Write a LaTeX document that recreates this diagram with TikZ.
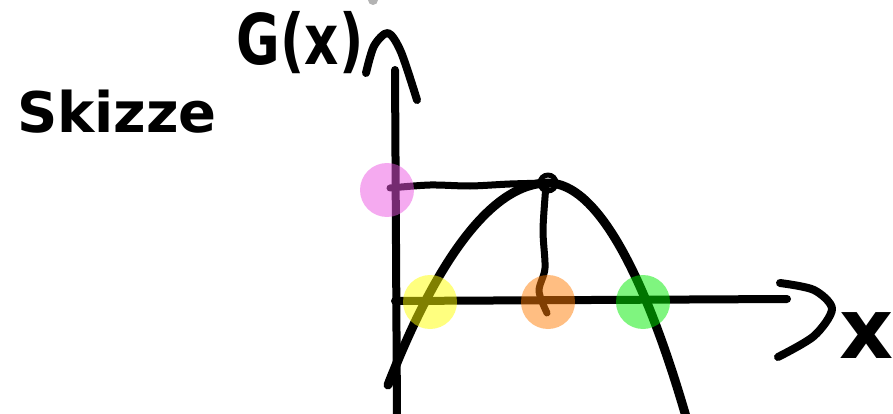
\documentclass[tikz,border=0pt]{standalone}
\usepackage{fontspec}
\setmainfont{DejaVu Sans}
\usepackage{tikz}
\usetikzlibrary{positioning}
\definecolor{skpink}{RGB}{235,85,225}
\definecolor{skyellow}{RGB}{255,255,0}
\definecolor{skorange}{RGB}{255,125,5}
\definecolor{skgreen}{RGB}{0,235,0}
\tikzset{
skline/.style={line width=9pt,line cap=round,line join=round},
skaxis/.style={skline,line width=8pt},
skdot/.style={circle,draw=none,minimum size=54pt,inner sep=0pt,fill opacity=0.5},
sktext/.style={font=\fontsize{56}{56}\selectfont\bfseries,inner sep=0pt}
}
\begin{document}
\begin{tikzpicture}[x=1pt,y=-1pt]
\useasboundingbox (0,0) rectangle (893,414);
% labels
\node[sktext] (title) at (117,112) {Skizze};
\node[sktext,xscale=0.95,yscale=1.25] (ylabel) at (300,43) {G(x)};
\node[sktext,font=\fontsize{84}{84}\selectfont\bfseries] (xlabel) at (867,336) {x};
% axes
\coordinate (ytop) at (395,70);
\coordinate (ybot) at (397,420);
\coordinate (xleft) at (395,301);
\coordinate (xright) at (787,299);
\draw[skaxis] (ybot)--(ytop);
\draw[skaxis] (xleft)--(xright);
\draw[skaxis] plot[smooth] coordinates {(366,73) (374,46) (388,33) (401,52) (417,100)};
\draw[skaxis] plot[smooth] coordinates {(780,283) (814,290) (832,309) (814,336) (778,357)};
% curve
\coordinate (peak) at (548,183);
\draw[skline] (388,385) parabola bend (peak) (687,420);
\draw[skline,line width=5pt] (peak) circle[radius=8pt];
\draw[skline,line width=7pt] plot[smooth] coordinates {(390,188) (430,185) (470,186) (510,184) (548,183)};
\draw[skline,line width=7pt] plot[smooth] coordinates {(546,185) (543,230) (545,268) (539,291) (547,313)};
% marks
\node[skdot,fill=skpink] (ymax) at (387,190) {};
\node[skdot,fill=skyellow] (rootl) at (430,302) {};
\node[skdot,fill=skorange] (xmax) at (548,302) {};
\node[skdot,fill=skgreen] (rootr) at (643,302) {};
\fill[gray,opacity=0.6] (373,0) circle[radius=5pt];
\end{tikzpicture}
\end{document}
